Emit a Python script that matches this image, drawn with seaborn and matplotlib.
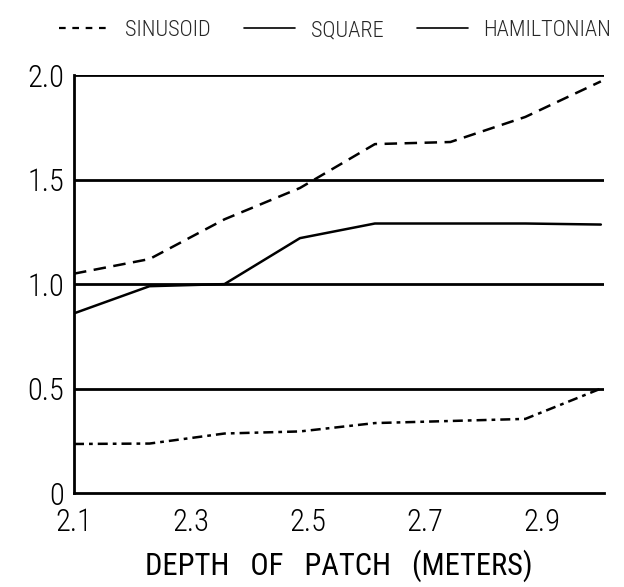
import matplotlib
matplotlib.use("Agg")
import matplotlib.pyplot as plt
from matplotlib.lines import Line2D
from matplotlib import font_manager
import seaborn as sns
import pandas as pd

# Patch depth samples (meters)
depth = [2.1, 2.229, 2.357, 2.486, 2.614, 2.743, 2.871, 3.0]

# Response for each excitation waveform
sinusoid = [1.05, 1.12, 1.31, 1.46, 1.67, 1.68, 1.80, 1.97]
square = [0.86, 0.99, 1.00, 1.22, 1.29, 1.29, 1.29, 1.285]
hamiltonian = [0.235, 0.237, 0.285, 0.295, 0.335, 0.345, 0.355, 0.50]

series_names = ["SINUSOID", "SQUARE", "HAMILTONIAN"]
x_ticks = [2.1, 2.3, 2.5, 2.7, 2.9]
y_ticks = [0, 0.5, 1.0, 1.5, 2.0]
y_tick_labels = ["0", "0.5", "1.0", "1.5", "2.0"]

df = pd.DataFrame({
    "depth": depth * 3,
    "value": sinusoid + square + hamiltonian,
    "series": sum([[n] * len(depth) for n in series_names], []),
})

sns.set_theme(style="white")

# Prefer a narrow sans face; fall back to the condensed cut of DejaVu Sans
installed = {f.name for f in font_manager.fontManager.ttflist}
narrow_choices = ["Liberation Sans Narrow", "Roboto Condensed", "Open Sans Condensed",
                  "DejaVu Sans Condensed", "Noto Sans Condensed"]
face = next((n for n in narrow_choices if n in installed), "DejaVu Sans")
plt.rcParams["font.family"] = [face, "DejaVu Sans"]
plt.rcParams["font.stretch"] = "condensed"
plt.rcParams["font.weight"] = "light"

fig = plt.figure(figsize=(6.24, 5.87), dpi=100)
ax = fig.add_axes([0.1186, 0.160, 0.849, 0.712])

dash_styles = {
    "SINUSOID": (5, 3),
    "SQUARE": "",
    "HAMILTONIAN": (4, 2, 1.5, 2),
}
sns.lineplot(
    data=df, x="depth", y="value", hue="series", style="series",
    palette=["black"] * 3, dashes=dash_styles, linewidth=1.8,
    legend=False, ax=ax,
)

# Horizontal reference lines at the major y ticks
for yv in y_ticks[1:]:
    ax.axhline(yv, color="black", linewidth=2.0, zorder=1)

ax.set_xlim(2.1, 3.005)
ax.set_ylim(0, 2.0)
ax.set_xticks(x_ticks)
ax.set_xticklabels([f"{v:.1f}" for v in x_ticks])
ax.set_yticks(y_ticks)
ax.set_yticklabels(y_tick_labels)
ax.tick_params(axis="both", length=0, labelsize=22, colors="black")
ax.tick_params(axis="x", pad=11)
ax.tick_params(axis="y", pad=7)

for side in ["top", "right"]:
    ax.spines[side].set_visible(False)
for side in ["left", "bottom"]:
    ax.spines[side].set_color("black")
    ax.spines[side].set_linewidth(2.0)

ax.set_xlabel("DEPTH   OF   PATCH   (METERS)", fontsize=22, color="black", labelpad=9)
ax.set_ylabel("")

handles = [
    Line2D([], [], color="black", linewidth=1.6, dashes=(3, 3)),
    Line2D([], [], color="black", linewidth=1.2),
    Line2D([], [], color="black", linewidth=1.2),
]
fig.legend(
    handles, series_names, loc="upper center", bbox_to_anchor=(0.537, 1.0),
    ncol=3, frameon=False, fontsize=16, handlelength=2.3,
    columnspacing=1.5, handletextpad=0.7,
)

fig.savefig("out.png", dpi=100, facecolor="white")
